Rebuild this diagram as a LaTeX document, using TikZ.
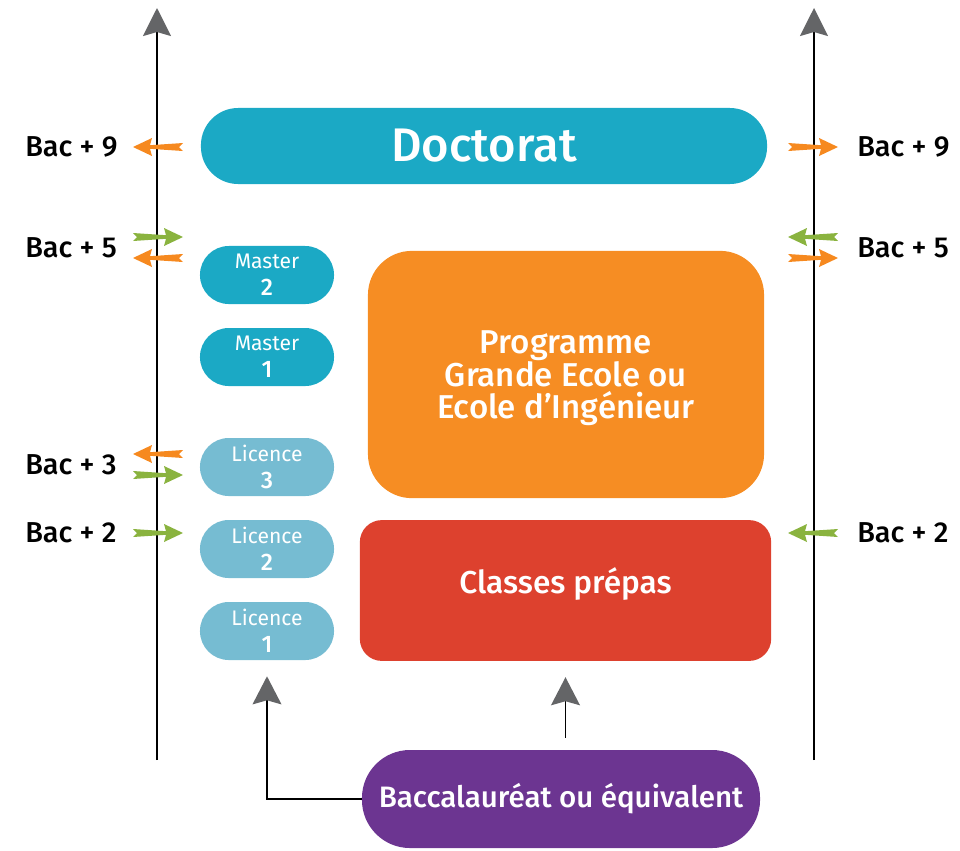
\documentclass[tikz,border=0pt]{standalone}
\usepackage{fontspec}
\setmainfont{Fira Sans}[BoldFont={Fira Sans Medium}]
\usetikzlibrary{arrows.meta}

\definecolor{bleuDoc}{HTML}{1BA9C5}
\definecolor{bleuLic}{HTML}{76BCD2}
\definecolor{orangePGE}{HTML}{F68D23}
\definecolor{rougePrepa}{HTML}{DD412E}
\definecolor{violetBac}{HTML}{6C3591}
\definecolor{orangeFl}{HTML}{F6891F}
\definecolor{vertFl}{HTML}{8AB33F}
\definecolor{grisFl}{HTML}{646567}

% petite flèche effilée : #1 = x de la queue, #2 = y, #3 = sens (1 ou -1), #4 = couleur
\newcommand{\petitefleche}[4]{%
  \fill[#4, shift={(#1,#2)}, xscale=#3]
    (0,-4) -- (33,-1.8) -- (31,-9) -- (50,0) -- (31,9) -- (33,1.8) -- (0,4) -- (4,0) -- cycle;
}

\begin{document}
\begin{tikzpicture}[x=0.025cm, y=-0.025cm]
\useasboundingbox (0,0) rectangle (960,850);

% --- axes verticaux ---
\coordinate (gBas) at (157,760);
\coordinate (gHaut) at (157,8);
\coordinate (dBas) at (814,760);
\coordinate (dHaut) at (814,8);
\draw[line width=1.4pt, -{Stealth[grisFl, length=0.7cm, width=0.7cm, inset=0.1cm]}] (gBas) -- (gHaut);
\draw[line width=1.4pt, -{Stealth[grisFl, length=0.7cm, width=0.7cm, inset=0.1cm]}] (dBas) -- (dHaut);

% --- boîtes ---
\node[fill=bleuDoc, rounded corners=0.93cm, minimum width=14.15cm, minimum height=1.9cm, text=white, font=\fontsize{33.5}{38}\selectfont\bfseries] (doc) at (484,146) {Doctorat};

\foreach \nom/\titre/\num/\y/\coul in {m2/Master/2/275/bleuDoc, m1/Master/1/357/bleuDoc,
    l3/Licence/3/467/bleuLic, l2/Licence/2/549/bleuLic, l1/Licence/1/631/bleuLic} {
  \node[fill=\coul, rounded corners=0.72cm, minimum width=3.35cm, minimum height=1.45cm, text=white, align=center, inner sep=0pt,
    font=\fontsize{15}{19.2}\selectfont] (\nom) at (267,\y)
    {\titre\\{\fontsize{17}{19.2}\selectfont\bfseries \num}};
}

\node[fill=orangePGE, rounded corners=1.1cm, minimum width=9.9cm, minimum height=6.18cm, text=white, align=center, font=\fontsize{23.5}{22.8}\selectfont\bfseries] (pge) at (566,374.5) {};
\node[text=white, align=center, font=\fontsize{23.5}{22.8}\selectfont\bfseries] (pgeTxt) at (566,378)
  {Programme\\Grande Ecole ou\\Ecole d’Ingénieur};

\node[fill=rougePrepa, rounded corners=0.55cm, minimum width=10.28cm, minimum height=3.52cm, text=white, font=\fontsize{22.5}{26}\selectfont\bfseries] (prepa) at (565.5,590.5) {};
\node[text=white, font=\fontsize{22.5}{26}\selectfont\bfseries] (prepaTxt) at (565.5,584) {Classes prépas};

\node[fill=violetBac, rounded corners=1.2cm, minimum width=9.95cm, minimum height=2.45cm, text=white, font=\fontsize{21}{24}\selectfont\bfseries] (bac) at (561,799) {Baccalauréat ou équivalent};

% --- flèches du bac ---
\draw[line width=1.4pt, -{Stealth[grisFl, length=0.7cm, width=0.72cm, inset=0.1cm]}, shorten >=0.4cm] (bac.west) -| (l1.south);
\draw[line width=1.4pt, -{Stealth[grisFl, length=0.7cm, width=0.72cm, inset=0.1cm]}, shorten >=0.4cm, shorten <=0.3cm] (bac.north -| prepa.south) -- (prepa.south);

% --- niveaux ---
\foreach \txt/\y in {9/147, 5/248, 3/465, 2/533} {
  \node[anchor=west, font=\fontsize{20.5}{24}\selectfont\bfseries, inner sep=0pt] (bacg\txt) at (25,\y) {Bac + \txt};
}
\foreach \txt/\y in {9/147, 5/248, 2/533} {
  \node[anchor=west, font=\fontsize{20.5}{24}\selectfont\bfseries, inner sep=0pt] (bacd\txt) at (857,\y) {Bac + \txt};
}

% --- petites flèches ---
\foreach \x/\y/\s/\c in {183/147/-1/orangeFl, 133/237/1/vertFl, 183/258/-1/orangeFl,
    183/454/-1/orangeFl, 133/475/1/vertFl, 133/533/1/vertFl,
    788/147/1/orangeFl, 838/237/-1/vertFl, 788/258/1/orangeFl, 838/533/-1/vertFl} {
  \petitefleche{\x}{\y}{\s}{\c}
}

\end{tikzpicture}
\end{document}
